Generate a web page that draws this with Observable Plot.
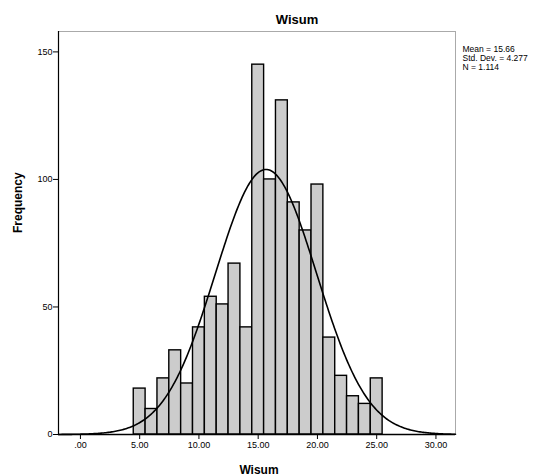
<!DOCTYPE html>
<html>
<head>
<meta charset="utf-8">
<script src="https://cdn.jsdelivr.net/npm/d3@7"></script>
<script src="https://cdn.jsdelivr.net/npm/@observablehq/plot@0.6"></script>
<style>
  html, body { margin: 0; padding: 0; background: #fff; }
  #chart svg { display: block; }
</style>
</head>
<body>
<div id="chart"></div>
<script>
// ---- data ----
const binCenters = [5, 6, 7, 8, 9, 10, 11, 12, 13, 14, 15, 16, 17, 18, 19, 20, 21, 22, 23, 24, 25];
const frequencies = [18, 10, 22, 33, 20, 42, 54, 51, 67, 42, 145, 100, 131, 91, 80, 98, 38, 23, 15, 12, 22];
const xTickValues = [0, 5, 10, 15, 20, 25, 30];
const xTickLabels = [".00", "5.00", "10.00", "15.00", "20.00", "25.00", "30.00"];
const yTickValues = [0, 50, 100, 150];
const yTickLabels = ["0", "50", "100", "150"];
const statLabels = ["Mean = 15.66", "Std. Dev. = 4.277", "N = 1.114"];
const statMean = 15.66;
const statSd = 4.277;
const statN = 1114;
const binWidth = 1;
const titleText = "Wisum";
const xLabel = "Wisum";
const yLabel = "Frequency";

// ---- derived tables ----
const bars = binCenters.map((c, i) => ({x1: c - binWidth / 2, x2: c + binWidth / 2, y: frequencies[i]}));
const xDomain = [-1.85, 31.65];
// fitted normal curve defined by the displayed Mean / Std. Dev. / N
const curve = d3.range(xDomain[0], xDomain[1] + 0.001, 0.1).map(x => ({
  x,
  y: statN * binWidth * Math.exp(-0.5 * ((x - statMean) / statSd) ** 2) / (statSd * Math.sqrt(2 * Math.PI))
}));

const font = "Arial, 'Liberation Sans', sans-serif";

const chart = Plot.plot({
  width: 546,
  height: 476,
  marginLeft: 58,
  marginRight: 91,
  marginTop: 31,
  marginBottom: 42,
  style: {fontFamily: font, background: "#fff", color: "#000"},
  x: {domain: xDomain, label: null},
  y: {domain: [0, 158], label: null},
  marks: [
    Plot.frame({stroke: "#555", strokeDasharray: "1,1", strokeWidth: 1}),
    Plot.rectY(bars, {x1: "x1", x2: "x2", y: "y", fill: "#cccccc", stroke: "#000", strokeWidth: 1.4, inset: 0}),
    Plot.line(curve, {x: "x", y: "y", stroke: "#000", strokeWidth: 1.6}),
    Plot.ruleX([xDomain[0]], {stroke: "#000", strokeWidth: 1.2}),
    Plot.ruleY([0], {stroke: "#000", strokeWidth: 1.4}),
    Plot.axisX({ticks: xTickValues, tickFormat: d => xTickLabels[xTickValues.indexOf(d)], tickSize: 5, tickPadding: 2, fontSize: 9, label: null}),
    Plot.axisY({ticks: yTickValues, tickFormat: d => yTickLabels[yTickValues.indexOf(d)], tickSize: 5, tickPadding: 1, fontSize: 9, label: null}),
    Plot.text([titleText], {frameAnchor: "top", dx: 40, dy: -8, text: d => d, fontSize: 13, fontWeight: "bold", lineAnchor: "bottom"}),
    Plot.text([xLabel], {frameAnchor: "bottom", dx: 2, dy: 39, text: d => d, fontSize: 12, fontWeight: "bold", lineAnchor: "bottom"}),
    Plot.text([yLabel], {frameAnchor: "left", dx: -40, text: d => d, rotate: -90, fontSize: 12, fontWeight: "bold"}),
    Plot.text([statLabels.join("\n")], {frameAnchor: "top-right", dx: 7, dy: 14, text: d => d, textAnchor: "start", lineAnchor: "top", fontSize: 8.5, lineHeight: 1.05})
  ]
});
document.getElementById("chart").append(chart);
</script>
</body>
</html>
